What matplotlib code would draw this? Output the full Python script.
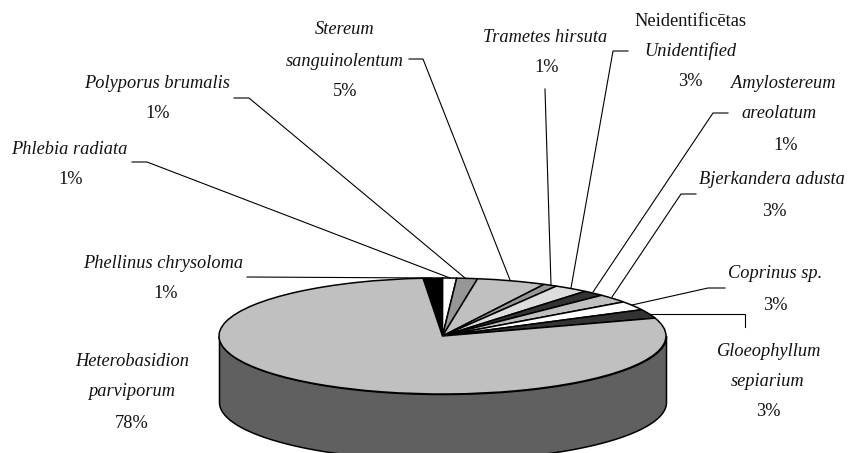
import numpy as np
import matplotlib
matplotlib.use('Agg')
import matplotlib.pyplot as plt

# share of each slice, clockwise from the top of the pie
species = ['Phellinus chrysoloma', 'Phlebia radiata', 'Polyporus brumalis',
           'Stereum sanguinolentum', 'Trametes hirsuta', 'Unidentified',
           'Amylostereum areolatum', 'Bjerkandera adusta', 'Coprinus sp.',
           'Gloeophyllum sepiarium', 'Heterobasidion parviporum']
shares = [1.4, 1.0, 1.5, 5.0, 1.0, 2.5, 1.6, 2.4, 2.5, 2.5, 78.6]
colors = ['#000000', '#ffffff', '#969696', '#c0c0c0', '#969696', '#dddddd',
          '#333333', '#c0c0c0', '#ffffff', '#333333', '#c0c0c0']

W, H = 849, 453
cx, cy, rx, ry = 442.5, 336, 223.5, 58
depth = 66 / ry

fig = plt.figure(figsize=(W / 100, H / 100), dpi=100)

# squashed pie, one data unit = the pie radius
ax = fig.add_axes([0, 0, 1, 1])
ax.pie(shares, colors=colors, startangle=95, counterclock=False,
       wedgeprops=dict(edgecolor='black', linewidth=1.1, zorder=3))
ax.set_aspect('auto')
ax.set_xlim(-cx / rx, (W - cx) / rx)
ax.set_ylim((cy - H) / ry, cy / ry)
ax.axis('off')

# side wall under the front half
t = np.linspace(np.pi, 2 * np.pi, 300)
ax.fill_between(np.cos(t), np.sin(t), np.sin(t) - depth, facecolor='#606060',
                edgecolor='black', linewidth=1.1, zorder=2)

# labels and leader lines are placed in pixels
ov = fig.add_axes([0, 0, 1, 1], facecolor='none')
ov.set_xlim(0, W)
ov.set_ylim(H, 0)
ov.axis('off')

leaders = [
    ([247, 432], [277, 278]),
    ([132, 147, 450], [162, 162, 278]),
    ([234, 249, 465], [98, 98, 278]),
    ([409, 423, 510], [59, 59, 280]),
    ([545, 551], [89, 285]),
    ([628, 613, 571], [51, 51, 288]),
    ([728, 713, 593], [113, 113, 292]),
    ([696, 681, 612], [194, 194, 297]),
    ([725, 708, 632], [288, 288, 305]),
    ([650, 745, 745], [314, 314, 327]),
]
for xs, ys in leaders:
    ov.plot(xs, ys, color='black', lw=0.8, solid_joinstyle='miter')

labels = [
    ('Stereum', 345, 28, True), ('sanguinolentum', 345, 60, True), ('5%', 345, 90, False),
    ('Polyporus brumalis', 157, 83, True), ('1%', 158, 113, False),
    ('Phlebia radiata', 69, 148, True), ('1%', 71, 178, False),
    ('Phellinus chrysoloma', 163, 262, True), ('1%', 166, 292, False),
    ('Trametes hirsuta', 545, 36, True), ('1%', 547, 67, False),
    ('Neidentificētas', 690, 20, False), ('Unidentified', 690, 50, True), ('3%', 690, 81, False),
    ('Amylostereum', 783, 83, True), ('areolatum', 779, 113, True), ('1%', 786, 144, False),
    ('Bjerkandera adusta', 772, 179, True), ('3%', 774, 210, False),
    ('Coprinus sp.', 775, 273, True), ('3%', 775, 304, False),
    ('Gloeophyllum', 769, 351, True), ('sepiarium', 768, 381, True), ('3%', 768, 411, False),
    ('Heterobasidion', 132, 361, True), ('parviporum', 132, 391, True), ('78%', 132, 422, False),
]
for s, x, y, ital in labels:
    ov.text(x, y + 1, s, ha='center', va='center', family='Liberation Serif', fontsize=13.2,
            style='italic' if ital else 'normal', color='#111111')

fig.savefig('out.png', dpi=100)
